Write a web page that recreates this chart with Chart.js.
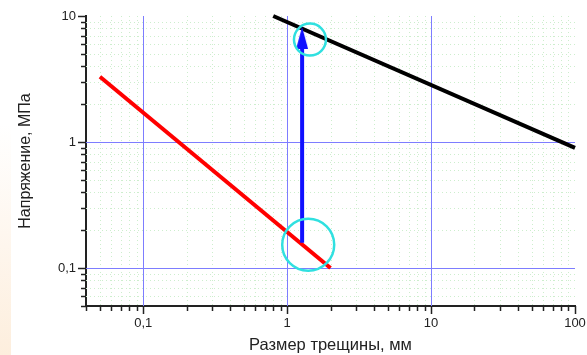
<!DOCTYPE html>
<html><head><meta charset="utf-8">
<script src="https://cdn.jsdelivr.net/npm/chart.js@4/dist/chart.umd.min.js"></script>
<style>
html,body{margin:0;padding:0;background:#fff;}
#wrap{position:relative;width:587px;height:355px;
background:linear-gradient(to bottom, rgba(255,255,255,0) 35%, #fdeedd 100%) no-repeat 0 0 / 11px 355px;}
</style></head>
<body><div id="wrap"><canvas id="c" width="587" height="355"></canvas></div>
<script>
// Data
const redX = [0.05, 2];
const redY = [3.3, 0.1];
const blackX = [0.8, 100];
const blackY = [10, 0.9];
const arrowX = [1.27, 1.27];
const arrowY = [0.159, 6.0];
const arrowHead = [{x: 1.27, y: 6.7}];
const circleX = [1.44, 1.40];
const circleY = [6.5, 0.153];
const circleR = [16, 26];
const xRange = [0.04, 100];
const yRange = [0.05, 10];
const xTitle = 'Размер трещины, мм';
const yTitle = 'Напряжение, МПа';

const pts = (xs, ys) => xs.map((x, i) => ({x, y: ys[i]}));

function logTicks(min, max) {
  const out = [];
  for (let e = Math.floor(Math.log10(min)); e <= Math.ceil(Math.log10(max)); e++) {
    for (let m = 1; m <= 9; m++) {
      const v = parseFloat((m * Math.pow(10, e)).toPrecision(6));
      if (v >= min * 0.9999 && v <= max * 1.0001) out.push({value: v, major: m === 1});
    }
  }
  return out;
}
const isDecade = v => Math.abs(Math.log10(v) - Math.round(Math.log10(v))) < 1e-6;
const fmt = v => isDecade(v) ? String(v).replace('.', ',') : '';

// arrow head marker
const head = document.createElement('canvas');
head.width = 12; head.height = 22;
{ const g = head.getContext('2d'); g.fillStyle = '#1010ff'; g.beginPath(); g.moveTo(6, 0); g.lineTo(12, 22); g.lineTo(0, 22); g.closePath(); g.fill(); }

const gridPlugin = {
  id: 'grid2',
  beforeDatasetsDraw(chart) {
    const {ctx, chartArea: a, scales} = chart;
    ctx.save();
    [false, true].forEach(pass => {
      ['x', 'y'].forEach(id => {
        const s = scales[id];
        s.ticks.forEach(t => {
          const major = isDecade(t.value);
          if (major !== pass) return;
          const p = Math.round(s.getPixelForValue(t.value)) + 0.5;
          if (id === 'x' && (p < a.left + 2 || p > a.right - 2)) return;
          if (id === 'y' && (p < a.top + 2 || p > a.bottom - 2)) return;
          ctx.beginPath();
          if (major) { ctx.setLineDash([]); ctx.strokeStyle = '#7d7dff'; ctx.lineWidth = 1; }
          else { ctx.setLineDash([1, 3]); ctx.strokeStyle = '#cdeecd'; ctx.lineWidth = 1; }
          if (id === 'x') { ctx.moveTo(p, a.top); ctx.lineTo(p, a.bottom); }
          else { ctx.moveTo(a.left, p); ctx.lineTo(a.right, p); }
          ctx.stroke();
        });
      });
    });
    ctx.setLineDash([]);
    ctx.strokeStyle = '#222'; ctx.lineWidth = 1.5;
    scales.x.ticks.forEach(t => {
      const p = Math.round(scales.x.getPixelForValue(t.value)) + 0.5;
      const L = isDecade(t.value) ? 8 : 5;
      ctx.beginPath(); ctx.moveTo(p, a.bottom); ctx.lineTo(p, a.bottom + L); ctx.stroke();
    });
    scales.y.ticks.forEach(t => {
      const p = Math.round(scales.y.getPixelForValue(t.value)) + 0.5;
      const L = isDecade(t.value) ? 8 : 5;
      ctx.beginPath(); ctx.moveTo(a.left, p); ctx.lineTo(a.left - L, p); ctx.stroke();
    });
    ctx.restore();
  }
};

const font = {family: '"Liberation Sans", Arial, sans-serif', size: 13};
const xtfont = {family: '"Liberation Sans", Arial, sans-serif', size: 16.5};
const ytfont = {family: '"Liberation Sans", Arial, sans-serif', size: 16};

new Chart(document.getElementById('c'), {
  type: 'scatter',
  data: {
    datasets: [
      {data: pts(circleX, circleY), showLine: false, pointRadius: circleR, pointBorderColor: '#30e0e0', pointBackgroundColor: 'rgba(0,0,0,0)', pointBorderWidth: 2.5, order: 0},
      {data: arrowHead, showLine: false, pointStyle: head, pointRadius: 11, order: 1},
      {data: pts(arrowX, arrowY), showLine: true, borderColor: '#1010ff', borderWidth: 4, pointRadius: 0, order: 2},
      {data: pts(redX, redY), showLine: true, borderColor: '#ff0000', borderWidth: 4, pointRadius: 0, order: 3},
      {data: pts(blackX, blackY), showLine: true, borderColor: '#000000', borderWidth: 4, pointRadius: 0, order: 4}
    ]
  },
  options: {
    responsive: false, animation: false, events: [],
    clip: false,
    layout: {autoPadding: false, padding: {left: 0, right: 12, top: 16, bottom: 0}},
    plugins: {legend: {display: false}, tooltip: {enabled: false}},
    scales: {
      x: {
        type: 'logarithmic', min: xRange[0], max: xRange[1],
        afterBuildTicks: s => { s.ticks = logTicks(xRange[0], xRange[1]); },
        afterFit: s => { s.height = 49; s.paddingLeft = 0; s.paddingRight = 0; },
        grid: {display: false, drawTicks: false},
        border: {display: true, color: '#222', width: 2},
        ticks: {callback: fmt, autoSkip: false, maxRotation: 0, padding: 10, color: '#222', font},
        title: {display: true, text: xTitle, color: '#222', font: xtfont, padding: {top: 0, bottom: 0}}
      },
      y: {
        type: 'logarithmic', min: yRange[0], max: yRange[1],
        afterBuildTicks: s => { s.ticks = logTicks(yRange[0], yRange[1]); },
        afterFit: s => { s.width = 86; s.paddingTop = 0; s.paddingBottom = 0; },
        grid: {display: false, drawTicks: false},
        border: {display: true, color: '#222', width: 2},
        ticks: {callback: fmt, autoSkip: false, padding: 10, color: '#222', font},
        title: {display: true, text: yTitle, color: '#222', font: ytfont, padding: {top: 16, bottom: 0}}
      }
    }
  },
  plugins: [gridPlugin]
});
</script>
</body></html>
